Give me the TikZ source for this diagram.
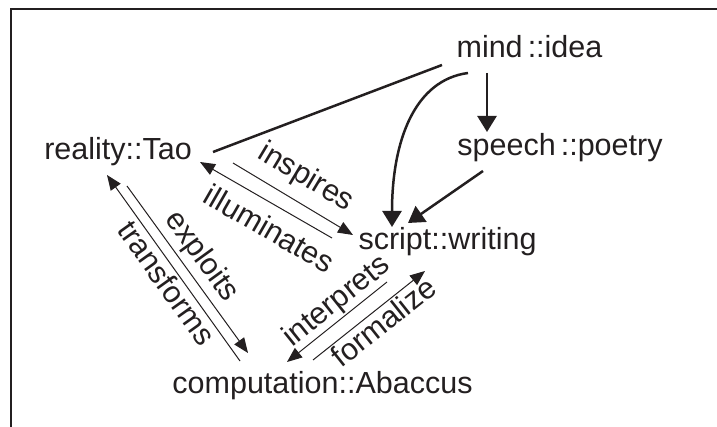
\documentclass[tikz,border=0pt]{standalone}
\usepackage{fontspec}
\setmainfont{Liberation Sans}
\usetikzlibrary{arrows.meta}
\definecolor{ink}{RGB}{35,31,32}
\begin{document}
\begin{tikzpicture}[x=1pt,y=-1pt,
  concept/.style={inner sep=0pt, anchor=base, text=ink, font=\fontsize{30.5}{36}\selectfont},
  rel/.style={sloped, text=ink, font=\fontsize{30.5}{36}\selectfont},
  link/.style={draw=ink, line width=2.5pt},
  heavy/.style={link, -{Triangle[length=16pt,width=19pt]}},
  light/.style={draw=ink, line width=1pt, -{Triangle[length=15pt,width=12pt]}},
  frame/.style={draw=ink, line width=2.5pt}]
\useasboundingbox (0,0) rectangle (717,427);

% open frame: left and top rules run off the page
\coordinate (corner) at (11,9);
\draw[frame] (11,440) -- (corner) -- (730,9);

% concepts
\node[concept] (mind)    at (529.5,58)  {mind\,::idea};
\node[concept] (speech)  at (560,156)   {speech\,::poetry};
\node[concept] (reality) at (118,160)   {reality::Tao};
\node[concept] (script)  at (447.5,250) {script::writing};
\node[concept] (comp)    at (322.5,393) {computation::Abaccus};

% heavy links from mind
\draw[link] ([shift={(-87.5,7)}]mind.base) -- ([shift={(95,-8)}]reality.base);
\draw[heavy] ([shift={(-61.5,15)}]mind.base)
  .. controls +(-53,7) and +(0,-87) .. ([shift={(-55.5,-23)}]script.base);
\draw[heavy] ([shift={(-42.5,15)}]mind.base) -- ([shift={(-73,-24)}]speech.base);
\draw[heavy] ([shift={(-77,15)}]speech.base) -- ([shift={(-39.5,-27)}]script.base);

% labelled relations
\draw[light] ([shift={(115,3)}]reality.base)
  -- node[rel, above, pos=0.5, inner sep=10pt] {inspires} ([shift={(-94.5,-15)}]script.base);
\draw[light] ([shift={(-115.5,-12)}]script.base)
  -- node[rel, below, pos=0.385, inner sep=11pt] {illuminates} ([shift={(82,2)}]reality.base);
\draw[light] ([shift={(9,26)}]reality.base)
  -- node[rel, above, pos=0.49, inner sep=4pt] {exploits} ([shift={(-74.5,-40)}]comp.base);
\draw[light] ([shift={(-82.5,-32)}]comp.base)
  -- node[rel, below, pos=0.464, inner sep=2pt] {transforms} ([shift={(-11,15)}]reality.base);
\draw[light] ([shift={(-60.5,32)}]script.base)
  -- node[rel, above, pos=0.4, inner sep=1pt] {interprets} ([shift={(-35.5,-31)}]comp.base);
\draw[light] ([shift={(-9.5,-33)}]comp.base)
  -- node[rel, below, pos=0.55, inner sep=2pt] {formalize} ([shift={(-22.5,21)}]script.base);
\end{tikzpicture}
\end{document}
